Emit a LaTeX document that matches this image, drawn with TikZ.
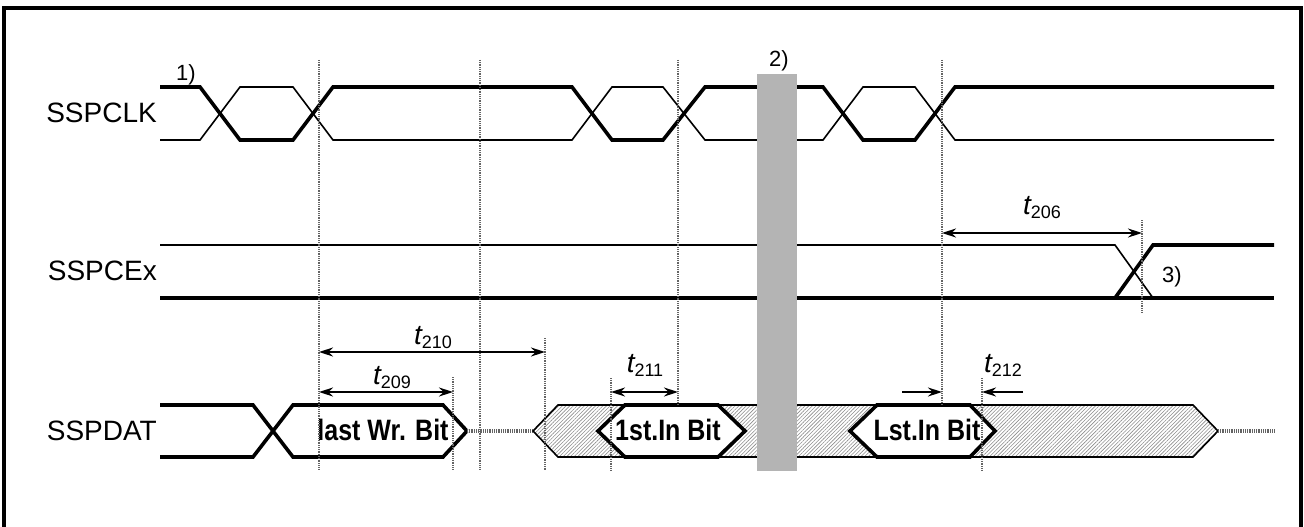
\documentclass[tikz,border=0pt]{standalone}
\usepackage{fontspec}
\setmainfont{Liberation Sans}
\usetikzlibrary{arrows.meta,patterns.meta}
\definecolor{bargray}{RGB}{180,180,180}
\definecolor{hatchgray}{RGB}{140,140,140}
\definecolor{markgray}{RGB}{100,100,100}
\newcommand{\tlab}[1]{{\fontsize{28}{28}\selectfont\itshape t}\raisebox{-4pt}{\fontsize{18}{18}\selectfont #1}}
\newcommand{\bitbox}[1]{\scalebox{1}[1.18]{#1}}

\begin{document}
\begin{tikzpicture}[x=1pt,y=-1pt,>={Stealth[length=14pt,width=9pt]}]
\tikzset{thin/.style={line width=1.6pt,line join=miter}}
\tikzset{bold/.style={line width=3.6pt,line join=miter}}
\tikzset{vmark/.style={markgray,line width=1.4pt,dash pattern=on 1pt off 0.8pt}}
\tikzset{hiz/.style={markgray,line width=3.5pt,dash pattern=on 1pt off 0.8pt}}
\tikzset{dim/.style={<->,line width=1.6pt}}
\tikzset{sname/.style={anchor=east,inner sep=0pt,font=\fontsize{28}{28}\selectfont}}
\tikzset{bitlab/.style={inner sep=0pt,font=\bfseries\fontsize{25}{25}\selectfont}}
\tikzset{note/.style={inner sep=0pt,font=\fontsize{22}{22}\selectfont}}
\tikzset{tl/.style={anchor=south,inner sep=0pt}}
\useasboundingbox (0,0) rectangle (1304,527);
\draw[line width=3.5pt,line join=miter] (4,540) -- (4,8) -- (1301,8) -- (1301,540);
% signal names
\node[sname] (clk) at (157,113) {SSPCLK};
\node[sname] (cex) at (157,271) {SSPCEx};
\node[sname] (dat) at (157,431) {SSPDAT};
% SSPCLK
\draw[bold] (160,87) -- (200,87) -- (240,140) -- (293,140) -- (333,87) -- (572,87) -- (612,140) -- (663,140) -- (705,87) -- (823,87) -- (863,140) -- (915,140) -- (955,87) -- (1274,87);
\draw[thin] (160,140) -- (200,140) -- (240,87) -- (293,87) -- (333,140) -- (572,140) -- (612,87) -- (663,87) -- (705,140) -- (823,140) -- (863,87) -- (915,87) -- (955,140) -- (1274,140);
\node[note] (n1) at (186,75) {1)};
% SSPCEx
\draw[thin] (160,245) -- (1115,245) -- (1153,298);
\draw[bold] (160,298) -- (1274,298);
\draw[bold] (1115,298) -- (1153,245) -- (1274,245);
\node[note] (n3) at (1172,277) {3)};
% SSPDAT
\draw[bold] (160,405) -- (253,405) -- (293,457) -- (443,457) -- (467,431);
\draw[bold] (160,457) -- (253,457) -- (293,405) -- (443,405) -- (467,431);
\node[bitlab] (lastwr) at (383,430) {\bitbox{last Wr. Bit}};
\draw[hiz] (467,431) -- (533,431);
\draw[thin,pattern={Lines[angle=45,distance=2.6pt,line width=0.6pt]},pattern color=hatchgray]
  (533,431) -- (558,405) -- (1193,405) -- (1218,431) -- (1193,457) -- (558,457) -- cycle;
\draw[hiz] (1218,431) -- (1274,431);
\draw[bold,fill=white] (598,431) -- (625,405) -- (718,405) -- (745,431) -- (718,457) -- (625,457) -- cycle;
\node[bitlab] (firstin) at (668,430) {\bitbox{1st.In Bit}};
\draw[bold,fill=white] (850,431) -- (877,405) -- (970,405) -- (995,431) -- (970,457) -- (877,457) -- cycle;
\node[bitlab] (lstin) at (927,430) {\bitbox{Lst.In Bit}};
% stop bar
\fill[bargray] (757,74) rectangle (797,471);
\node[note] (n2) at (779,61) {2)};
% timing marks
\draw[vmark] (319,60) -- (319,470);
\draw[vmark] (480,60) -- (480,470);
\draw[vmark] (678,60) -- (678,405);
\draw[vmark] (942,60) -- (942,405);
\draw[vmark] (453,377) -- (453,470);
\draw[vmark] (545,338) -- (545,470);
\draw[vmark] (611,378) -- (611,470);
\draw[vmark] (982,378) -- (982,470);
\draw[vmark] (1142,220) -- (1142,312);
% timings
\draw[dim] (942,233) -- (1142,233);
\node[tl] (t206) at (1042,219) {\tlab{206}};
\draw[dim] (319,352) -- (545,352);
\node[tl] (t210) at (433,349) {\tlab{210}};
\draw[dim] (319,392) -- (453,392);
\node[tl] (t209) at (392,389) {\tlab{209}};
\draw[dim] (611,392) -- (678,392);
\node[tl] (t211) at (645,377) {\tlab{211}};
\draw[->,line width=1.6pt] (902,392) -- (942,392);
\draw[->,line width=1.6pt] (1023,392) -- (982,392);
\node[tl] (t212) at (1003,377) {\tlab{212}};
\end{tikzpicture}
\end{document}
